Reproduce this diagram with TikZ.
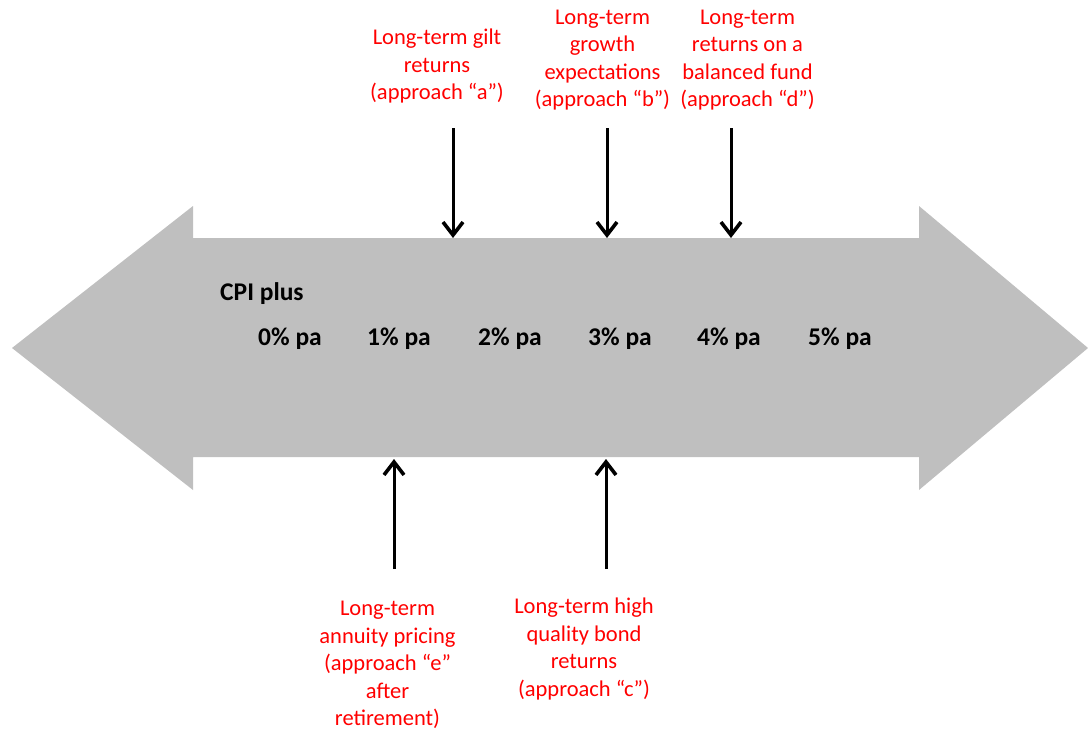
\documentclass[tikz,border=0pt]{standalone}
\usepackage{fontspec}
\setmainfont{Carlito}
\usetikzlibrary{arrows.meta}
\definecolor{bandgray}{RGB}{191,191,191}
\tikzset{
  lbl/.style={text=red, align=center, inner sep=0pt, font=\fontsize{22.5}{27.5}\selectfont},
  pct/.style={inner sep=0pt, font=\fontsize{25.5}{28}\selectfont\bfseries},
  ptr/.style={line width=3pt, -{Straight Barb[length=13pt,width=20pt,line width=3.6pt]}}
}
\begin{document}
\begin{tikzpicture}[x=1pt,y=-1pt]
\useasboundingbox (0,0) rectangle (1088,731);
% double arrow band
\fill[bandgray] (12,348) -- (193,206) -- (193,238) -- (919,238) -- (919,206)
  -- (1088,348) -- (919,490) -- (919,457) -- (193,457) -- (193,490) -- cycle;
% labels inside the band
\node[pct, anchor=west] (cpi) at (220,294) {CPI plus};
\node[pct] (p0) at (290,339) {0\% pa};
\node[pct] (p1) at (399,339) {1\% pa};
\node[pct] (p2) at (510,339) {2\% pa};
\node[pct] (p3) at (620,339) {3\% pa};
\node[pct] (p4) at (729,339) {4\% pa};
\node[pct] (p5) at (840,339) {5\% pa};
% top texts
\node[lbl] (ta) at (437,66) {Long-term gilt\\returns\\(approach “a”)};
\node[lbl] (tb) at (602.5,60) {Long-term\\growth\\expectations\\(approach “b”)};
\node[lbl] (td) at (747.5,60) {Long-term\\returns on a\\balanced fund\\(approach “d”)};
% bottom texts
\node[lbl] (te) at (387.5,665) {Long-term\\annuity pricing\\(approach “e”\\after\\retirement)};
\node[lbl] (tc) at (584,649) {Long-term high\\quality bond\\returns\\(approach “c”)};
% arrow ends
\coordinate (sa) at (453,128); \coordinate (ea) at (453,238);
\coordinate (sb) at (607,128); \coordinate (eb) at (607,238);
\coordinate (sd) at (731,128); \coordinate (ed) at (731,238);
\coordinate (se) at (394,569); \coordinate (ee) at (394,459);
\coordinate (sc) at (606,569); \coordinate (ec) at (606,459);
\draw[ptr] (sa) -- (ea);
\draw[ptr] (sb) -- (eb);
\draw[ptr] (sd) -- (ed);
\draw[ptr] (se) -- (ee);
\draw[ptr] (sc) -- (ec);
\end{tikzpicture}
\end{document}
